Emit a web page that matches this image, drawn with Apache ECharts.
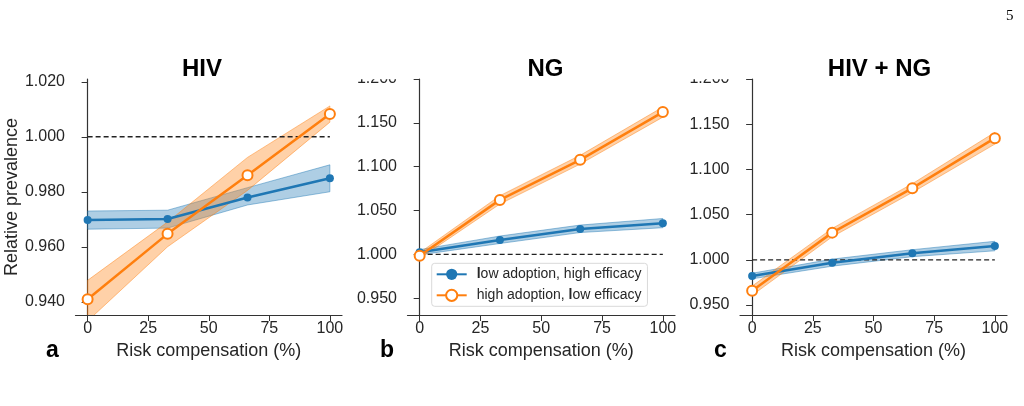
<!DOCTYPE html>
<html>
<head>
<meta charset="utf-8">
<script src="https://cdn.jsdelivr.net/npm/echarts@6/dist/echarts.min.js"></script>
<style>
  html, body { margin: 0; padding: 0; background: #fff; }
  #chart { width: 1024px; height: 406px; }
</style>
</head>
<body>
<div id="chart"></div>
<script>
// risk compensation (%) at which the model was run
const xs = [0, 33, 66, 100];
const xTicks = [0, 25, 50, 75, 100];

// HIV
const hivLow = [0.9697, 0.9701, 0.9779, 0.9849];
const hivLowLo = [0.9664, 0.9668, 0.9752, 0.9800];
const hivLowHi = [0.9730, 0.9733, 0.9815, 0.9898];
const hivHigh = [0.9409, 0.9647, 0.9860, 1.0083];
const hivHighLo = [0.9330, 0.9600, 0.9805, 1.0053];
const hivHighHi = [0.9478, 0.9690, 0.9925, 1.0112];
const hivTicks = [0.94, 0.96, 0.98, 1.00, 1.02];

// NG
const ngLow = [1.0025, 1.0166, 1.0291, 1.0356];
const ngLowLo = [0.9995, 1.0125, 1.0250, 1.0305];
const ngLowHi = [1.0055, 1.0210, 1.0335, 1.0410];
const ngHigh = [0.9986, 1.0622, 1.1079, 1.1623];
const ngHighLo = [0.9955, 1.0575, 1.1030, 1.1565];
const ngHighHi = [1.0020, 1.0670, 1.1130, 1.1680];
const ngTicks = [0.95, 1.00, 1.05, 1.10, 1.15, 1.20];

// HIV + NG
const bothLow = [0.9821, 0.9968, 1.0072, 1.0153];
const bothLowLo = [0.9790, 0.9930, 1.0035, 1.0100];
const bothLowHi = [0.9852, 1.0008, 1.0112, 1.0205];
const bothHigh = [0.9658, 1.0301, 1.0793, 1.1346];
const bothHighLo = [0.9608, 1.0255, 1.0745, 1.1280];
const bothHighHi = [0.9710, 1.0348, 1.0842, 1.1410];

// no-change reference
const refX = [0, 100];
const refY = [1, 1];

const nameLow = 'low adoption, high efficacy';
const nameHigh = 'high adoption, low efficacy';
const titles = ['HIV', 'NG', 'HIV + NG'];
const letters = ['a', 'b', 'c'];

const FONT = '"Liberation Sans", Arial, sans-serif';
const BLUE = '#1f77b4';
const ORANGE = '#ff7f0e';
const INK = '#262626';

const panels = [
  { low: hivLow, lowLo: hivLowLo, lowHi: hivLowHi, high: hivHigh, highLo: hivHighLo, highHi: hivHighHi,
    ticks: hivTicks, min: 0.9352, max: 1.021, left: 75.5, width: 266.5, titleX: 197, letterX: 46 },
  { low: ngLow, lowLo: ngLowLo, lowHi: ngLowHi, high: ngHigh, highLo: ngHighLo, highHi: ngHighHi,
    ticks: ngTicks, min: 0.931, max: 1.2, left: 407.5, width: 267.5, titleX: 540.5, letterX: 380 },
  { low: bothLow, lowLo: bothLowLo, lowHi: bothLowHi, high: bothHigh, highLo: bothHighLo, highHi: bothHighHi,
    ticks: ngTicks, min: 0.939, max: 1.2, left: 740, width: 267, titleX: 874.5, letterX: 714 }
];

function band(i, lo, hi, fill, stroke) {
  const data = xs.map((x, k) => [x, lo[k], hi[k]]);
  return {
    type: 'custom',
    name: 'band' + i,
    xAxisIndex: i,
    yAxisIndex: i,
    silent: true,
    z: 1,
    encode: { x: 0, y: [1, 2] },
    data: data,
    renderItem: function (params, api) {
      if (params.dataIndex !== 0) return;
      const pts = [];
      data.forEach(d => pts.push(api.coord([d[0], d[2]])));
      data.slice().reverse().forEach(d => pts.push(api.coord([d[0], d[1]])));
      const cs = params.coordSys;
      return {
        type: 'polygon',
        shape: { points: pts },
        style: { fill: fill, stroke: stroke, lineWidth: 1 },
        clipPath: { type: 'rect', shape: { x: cs.x, y: cs.y, width: cs.width, height: cs.height } }
      };
    }
  };
}

const grid = [], xAxis = [], yAxis = [], series = [], title = [], graphic = [];

panels.forEach((p, i) => {
  grid.push({ left: p.left, top: 79, width: p.width, height: 236 });
  xAxis.push({
    type: 'value', gridIndex: i, min: -5, max: 105,
    name: 'Risk compensation (%)', nameLocation: 'middle', nameGap: 27,
    nameTextStyle: { fontSize: 18, color: INK, fontFamily: FONT },
    axisLine: { lineStyle: { color: '#333', width: 1.2 } },
    axisTick: { length: 6, lineStyle: { color: '#333' }, customValues: xTicks },
    axisLabel: { fontSize: 16, color: INK, fontFamily: FONT, margin: 6, customValues: xTicks },
    splitLine: { show: false }
  });
  yAxis.push({
    type: 'value', gridIndex: i, min: p.min, max: p.max,
    name: i === 0 ? 'Relative prevalence' : '', nameLocation: 'middle', nameGap: 52,
    nameTextStyle: { fontSize: 18, color: INK, fontFamily: FONT },
    axisLine: { show: true, lineStyle: { color: '#333', width: 1.2 } },
    axisTick: { show: true, length: 6, lineStyle: { color: '#333' }, customValues: p.ticks },
    axisLabel: { fontSize: 16, color: INK, fontFamily: FONT, margin: 10.5, customValues: p.ticks,
      formatter: v => v.toFixed(3) },
    splitLine: { show: false }
  });
  series.push(band(i, p.lowLo, p.lowHi, 'rgba(31,119,180,0.36)', 'rgba(31,119,180,0.45)'));
  series.push(band(i, p.highLo, p.highHi, 'rgba(255,127,14,0.36)', 'rgba(255,127,14,0.45)'));
  series.push({
    type: 'line', name: 'ref' + i, xAxisIndex: i, yAxisIndex: i, silent: true,
    data: refX.map((x, k) => [x, refY[k]]), symbol: 'none', z: 2,
    lineStyle: { color: '#222', width: 1.3, type: [5, 3] }
  });
  series.push({
    type: 'line', name: nameLow, xAxisIndex: i, yAxisIndex: i, z: 3,
    data: xs.map((x, k) => [x, p.low[k]]),
    symbol: 'circle', symbolSize: 8,
    lineStyle: { color: BLUE, width: 2.5 },
    itemStyle: { color: BLUE }
  });
  series.push({
    type: 'line', name: nameHigh, xAxisIndex: i, yAxisIndex: i, z: 4,
    data: xs.map((x, k) => [x, p.high[k]]),
    symbol: 'circle', symbolSize: 10,
    lineStyle: { color: ORANGE, width: 2.5 },
    itemStyle: { color: '#fff', borderColor: ORANGE, borderWidth: 2 }
  });
  title.push({
    text: titles[i], left: p.titleX, top: 52, textAlign: 'center',
    textStyle: { fontSize: 24, fontWeight: 'bold', color: '#000', fontFamily: FONT }
  });
  graphic.push({
    type: 'text', left: p.letterX, top: 339, z: 100,
    style: { text: letters[i], fill: '#000', font: 'bold 23px ' + FONT }
  });
});

// the top tick labels of b and c are cut at the axes top in the original
graphic.push({ type: 'rect', left: 345, top: 60, z: 100, shape: { width: 58, height: 19.3 }, style: { fill: '#fff' } });
graphic.push({ type: 'rect', left: 678, top: 60, z: 100, shape: { width: 58, height: 19.3 }, style: { fill: '#fff' } });
// page number
graphic.push({ type: 'text', left: 1006, top: 9, z: 100,
  style: { text: '5', font: '15px "Liberation Serif", serif', fill: '#000' } });

const chart = echarts.init(document.getElementById('chart'));
chart.setOption({
  animation: false,
  backgroundColor: '#fff',
  title: title,
  grid: grid,
  xAxis: xAxis,
  yAxis: yAxis,
  legend: {
    data: [nameLow, nameHigh],
    orient: 'vertical',
    left: 431.7, top: 263.3,
    padding: [4, 6, 4, 4],
    itemGap: 7, itemWidth: 30, itemHeight: 14,
    backgroundColor: '#fff', borderColor: '#d9d9d9', borderWidth: 1, borderRadius: 3,
    formatter: n => n === nameLow ? '{b|l}ow adoption, high efficacy' : 'high adoption, {b|l}ow efficacy',
    textStyle: { fontSize: 14, color: INK, fontFamily: FONT, padding: [0, 0, 0, 5],
      rich: { b: { fontSize: 14, fontWeight: 'bold', color: INK, fontFamily: FONT } } }
  },
  series: series,
  graphic: graphic
});
</script>
</body>
</html>
